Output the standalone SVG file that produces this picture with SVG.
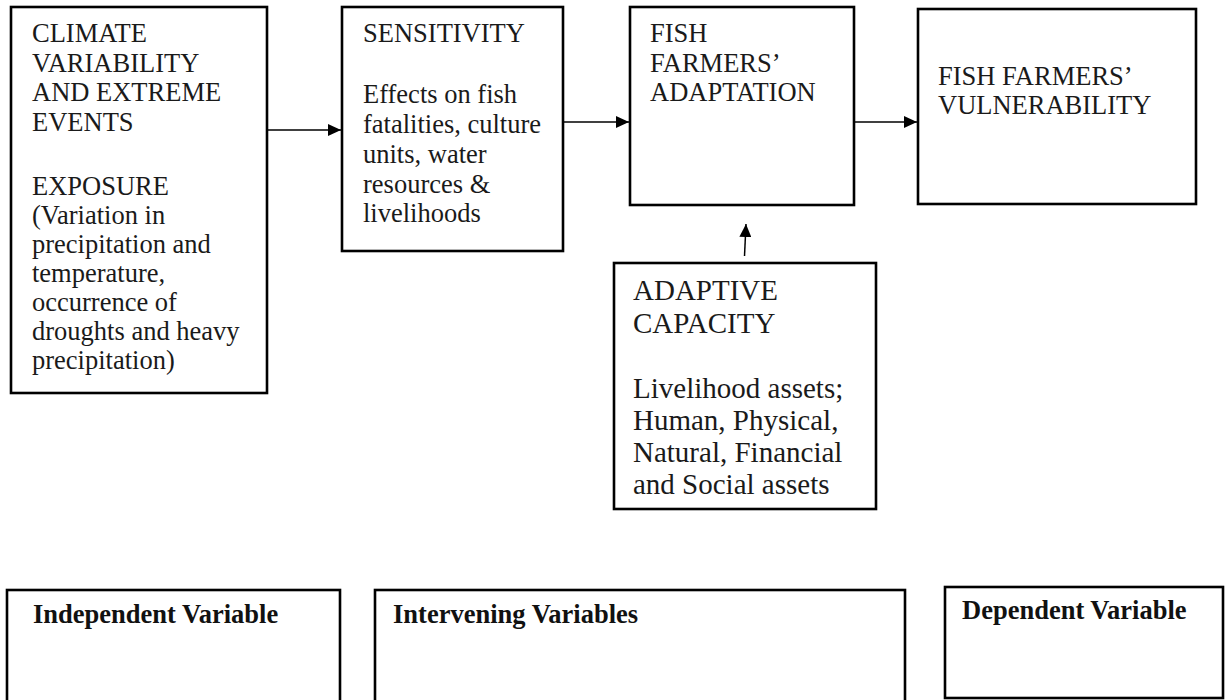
<svg xmlns="http://www.w3.org/2000/svg" width="1231" height="700" viewBox="0 0 1231 700">
<style>
.box{fill:#fff;stroke:#000;stroke-width:2.6}
.t{font-family:"Liberation Serif","Times New Roman",serif;font-size:26.5px;fill:#1a1a1a}
.t5{font-family:"Liberation Serif","Times New Roman",serif;font-size:29px;fill:#1a1a1a}
.b{font-family:"Liberation Serif","Times New Roman",serif;font-size:26.5px;font-weight:bold;fill:#111}
.c{stroke:#000;stroke-width:1.5;fill:none}
</style>
<defs>
<marker id="ah" markerUnits="userSpaceOnUse" markerWidth="13" markerHeight="12" refX="13" refY="6" orient="auto">
<path d="M0,0 L13,6 L0,12 z" fill="#000"/>
</marker>
</defs>
<rect width="1231" height="700" fill="#fff"/>
<g id="connectors">
<line class="c" x1="267" y1="130" x2="341" y2="130" marker-end="url(#ah)"/>
<line class="c" x1="563" y1="122" x2="629" y2="122" marker-end="url(#ah)"/>
<line class="c" x1="854" y1="122" x2="917" y2="122" marker-end="url(#ah)"/>
<line class="c" x1="744.5" y1="256" x2="746" y2="224" marker-end="url(#ah)"/>
</g>
<g id="climate">
<rect class="box" x="11" y="7" width="256" height="386"/>
<text class="t" x="32">
<tspan x="32" y="42">CLIMATE</tspan>
<tspan x="32" y="71.5">VARIABILITY</tspan>
<tspan x="32" y="101">AND EXTREME</tspan>
<tspan x="32" y="130.5">EVENTS</tspan>
<tspan x="32" y="195">EXPOSURE</tspan>
<tspan x="32" y="224">(Variation in</tspan>
<tspan x="32" y="253">precipitation and</tspan>
<tspan x="32" y="282">temperature,</tspan>
<tspan x="32" y="311">occurrence of</tspan>
<tspan x="32" y="340">droughts and heavy</tspan>
<tspan x="32" y="369">precipitation)</tspan>
</text>
</g>
<g id="sensitivity">
<rect class="box" x="342" y="7" width="221" height="244"/>
<text class="t">
<tspan x="363" y="42">SENSITIVITY</tspan>
<tspan x="363" y="103">Effects on fish</tspan>
<tspan x="363" y="133">fatalities, culture</tspan>
<tspan x="363" y="163">units, water</tspan>
<tspan x="363" y="193">resources &amp;</tspan>
<tspan x="363" y="222">livelihoods</tspan>
</text>
</g>
<g id="adaptation">
<rect class="box" x="630" y="7" width="224" height="198"/>
<text class="t">
<tspan x="650" y="42">FISH</tspan>
<tspan x="650" y="71.5">FARMERS’</tspan>
<tspan x="650" y="101">ADAPTATION</tspan>
</text>
</g>
<g id="vulnerability">
<rect class="box" x="918" y="9" width="278" height="195"/>
<text class="t">
<tspan x="938" y="85">FISH FARMERS’</tspan>
<tspan x="938" y="114">VULNERABILITY</tspan>
</text>
</g>
<g id="adaptive-capacity">
<rect class="box" x="614" y="263" width="262" height="246"/>
<text class="t5">
<tspan x="633" y="300">ADAPTIVE</tspan>
<tspan x="633" y="333">CAPACITY</tspan>
<tspan x="633" y="398">Livelihood assets;</tspan>
<tspan x="633" y="430">Human, Physical,</tspan>
<tspan x="633" y="462">Natural, Financial</tspan>
<tspan x="633" y="494">and Social assets</tspan>
</text>
</g>
<g id="independent">
<rect class="box" x="7" y="590" width="333" height="120"/>
<text class="b" x="33" y="623">Independent Variable</text>
</g>
<g id="intervening">
<rect class="box" x="375" y="590" width="530" height="120"/>
<text class="b" x="393" y="623">Intervening Variables</text>
</g>
<g id="dependent">
<rect class="box" x="945" y="587" width="278" height="111"/>
<text class="b" x="962" y="619">Dependent Variable</text>
</g>
</svg>
